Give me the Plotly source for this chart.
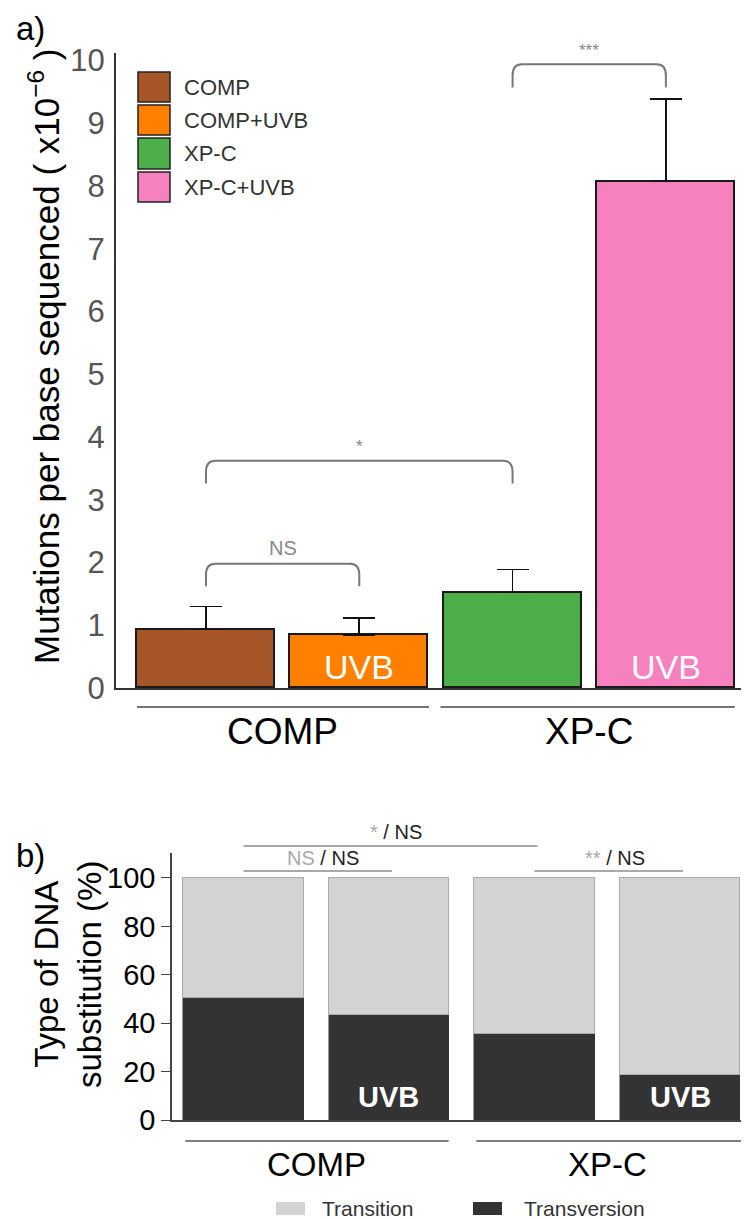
import plotly.graph_objects as go

W, H = 744, 1219
def X(p): return p / W
def Y(p): return 1 - p / H

# ---------------- data: panel a ----------------
conditions = ["COMP", "COMP+UVB", "XP-C", "XP-C+UVB"]
mut_mean = [0.93, 0.84, 1.52, 8.07]
mut_err = [0.37, 0.28, 0.37, 1.32]
bar_colors = ["#A65628", "#FF7F00", "#4DAF4A", "#F781BF"]
yticks_a = [0, 1, 2, 3, 4, 5, 6, 7, 8, 9, 10]
cell_lines = ["COMP", "XP-C"]
sig_a = [("NS", 0, 1, 1.98, 1.62), ("*", 0, 2, 3.62, 3.26), ("***", 2, 3, 9.94, 9.57)]

# ---------------- data: panel b ----------------
transversion = [50.6, 43.2, 35.4, 18.5]
transition = [49.4, 56.8, 64.6, 81.5]
yticks_b = [0, 20, 40, 60, 80, 100]

FONT = "Liberation Sans, Arial, sans-serif"
xa = list(range(len(conditions)))

fig = go.Figure()

fig.add_trace(go.Bar(
    x=xa, y=mut_mean, width=0.9,
    marker=dict(color=bar_colors, line=dict(color="#1a1a1a", width=1.6)),
    error_y=dict(type="data", symmetric=False, array=mut_err,
                 arrayminus=[0] * 4, color="#111", thickness=1.6, width=16),
    xaxis="x", yaxis="y", showlegend=False, hoverinfo="skip"))

fig.add_trace(go.Bar(
    x=xa, y=transversion, width=0.83, name="Transversion",
    marker=dict(color="#333333", line=dict(color="#333333", width=0.5)),
    xaxis="x2", yaxis="y2", showlegend=False))
fig.add_trace(go.Bar(
    x=xa, y=transition, width=0.83, name="Transition",
    marker=dict(color="#d3d3d3", line=dict(color="#aaaaaa", width=1)),
    xaxis="x2", yaxis="y2", showlegend=False))

shapes = []
ann = []

def A(**kw):
    kw.setdefault("showarrow", False)
    kw.setdefault("xanchor", "center")
    kw.setdefault("yanchor", "middle")
    ann.append(kw)

# significance brackets panel a
for lab, a, b, ytop, yleg in sig_a:
    r = 0.18
    dx = 0.06
    path = (f"M {a},{yleg} L {a},{ytop - r} Q {a},{ytop} {a + dx},{ytop} "
            f"L {b - dx},{ytop} Q {b},{ytop} {b},{ytop - r} L {b},{yleg}")
    shapes.append(dict(type="path", path=path, xref="x", yref="y",
                       line=dict(color="#777777", width=2)))
    A(x=(a + b) / 2, y=ytop + 0.04, xref="x", yref="y", text=lab, yanchor="bottom",
      font=dict(family=FONT, size=20 if lab == "NS" else 17, color="#888888"))

# UVB labels in bars panel a
for i in (1, 3):
    A(x=i, y=0.33, xref="x", yref="y", text="UVB",
      font=dict(family=FONT, size=34, color="white"))

# group lines & labels panel a
for (x0, x1), lab, xc in zip([(-0.45, 1.455), (1.53, 3.45)], cell_lines, [0.5, 2.5]):
    shapes.append(dict(type="line", xref="x", yref="paper", x0=x0, x1=x1,
                       y0=Y(707), y1=Y(707), line=dict(color="#444", width=1.5)))
    A(x=xc, y=Y(731), xref="x", yref="paper", text=lab,
      font=dict(family=FONT, size=37, color="black"))

# legend panel a
box_y = [(72, 102), (105, 135), (138, 169), (172, 202)]
for (y0, y1), col, lab in zip(box_y, bar_colors, conditions):
    shapes.append(dict(type="rect", xref="paper", yref="paper", x0=X(138), x1=X(170),
                       y0=Y(y1), y1=Y(y0), fillcolor=col,
                       line=dict(color="#222", width=1.5)))
    A(x=X(182), y=Y((y0 + y1) / 2), xref="paper", yref="paper", text=lab,
      xanchor="left", font=dict(family=FONT, size=22, color="#333"))

# y title panel a
A(x=X(44), y=Y(356), xref="paper", yref="paper", textangle=-90,
  text="Mutations per base sequenced ( x10<sup>−6</sup> )",
  font=dict(family=FONT, size=35, color="black"))
A(x=X(14), y=Y(28), xref="paper", yref="paper", text="a)", xanchor="left",
  font=dict(family=FONT, size=33, color="black"))
A(x=X(14), y=Y(855), xref="paper", yref="paper", text="b)", xanchor="left",
  font=dict(family=FONT, size=33, color="black"))

# panel b significance lines
sig_b = [("<span style='color:#aaaaaa'>*</span> / NS", 0, 2, 846, 832),
         ("<span style='color:#aaaaaa'>NS</span> / NS", 0, 1, 871, 858),
         ("<span style='color:#aaaaaa'>**</span> / NS", 2, 3, 871, 858)]
for lab, a, b, ly, ty in sig_b:
    shapes.append(dict(type="line", xref="x2", yref="paper", x0=a, x1=b + 0.02,
                       y0=Y(ly), y1=Y(ly), line=dict(color="#555", width=1.2)))
    A(x=(a + b) / 2 + 0.05, y=Y(ty), xref="x2", yref="paper", text=lab,
      font=dict(family=FONT, size=20, color="#222"))

for i in (1, 3):
    A(x=i, y=9.5, xref="x2", yref="y2", text="<b>UVB</b>",
      font=dict(family=FONT, size=29, color="white"))

for (x0, x1), lab, xc in zip([(-0.40, 1.41), (1.60, 3.42)], cell_lines, [0.5, 2.5]):
    shapes.append(dict(type="line", xref="x2", yref="paper", x0=x0, x1=x1,
                       y0=Y(1141), y1=Y(1141), line=dict(color="#555", width=1.5)))
    A(x=xc, y=Y(1164), xref="x2", yref="paper", text=lab,
      font=dict(family=FONT, size=33, color="black"))

A(x=X(68), y=Y(975), xref="paper", yref="paper", textangle=-90,
  text="Type of DNA<br>substitution (%)",
  font=dict(family=FONT, size=33, color="black"))

# legend panel b
for (x0, x1), col, lab, tx in [((276, 305), "#d3d3d3", "Transition", 320),
                               ((473, 502), "#333333", "Transversion", 522)]:
    shapes.append(dict(type="rect", xref="paper", yref="paper", x0=X(x0), x1=X(x1),
                       y0=Y(1215), y1=Y(1202), fillcolor=col, line=dict(width=0)))
    A(x=X(tx), y=Y(1208), xref="paper", yref="paper", text=lab, xanchor="left",
      font=dict(family=FONT, size=21, color="#333"))

fig.update_layout(
    width=W, height=H, margin=dict(l=0, r=0, t=0, b=0, pad=0, autoexpand=False),
    paper_bgcolor="white", plot_bgcolor="white", template="none",
    barmode="stack", bargap=0,
    shapes=shapes, annotations=ann, showlegend=False,
    xaxis=dict(domain=[X(116), X(741)], range=[-0.587, 3.49], showticklabels=False,
               ticks="", showgrid=False, zeroline=False, showline=True, automargin=False,
               linecolor="#333", linewidth=2, anchor="y"),
    yaxis=dict(domain=[Y(688), Y(53)], range=[0, 10.12], tickvals=yticks_a,
               ticks="", ticklabelstandoff=3, showgrid=False, zeroline=False,
               showline=True, linecolor="#333", linewidth=2, anchor="x", automargin=False,
               tickfont=dict(family=FONT, size=31, color="#555")),
    xaxis2=dict(domain=[X(172), X(741)], range=[-0.491, 3.419], showticklabels=False,
                ticks="", showgrid=False, zeroline=False, showline=True, automargin=False,
                linecolor="#444", linewidth=1.5, anchor="y2"),
    yaxis2=dict(domain=[Y(1120), Y(853)], range=[0, 110.3], tickvals=yticks_b,
                ticks="outside", ticklen=9, tickcolor="#444", tickwidth=1.2,
                showgrid=False, zeroline=False, showline=True, linecolor="#444",
                linewidth=1.5, anchor="x2", automargin=False,
                tickfont=dict(family=FONT, size=29, color="black")),
)

fig.write_html("out.html")
